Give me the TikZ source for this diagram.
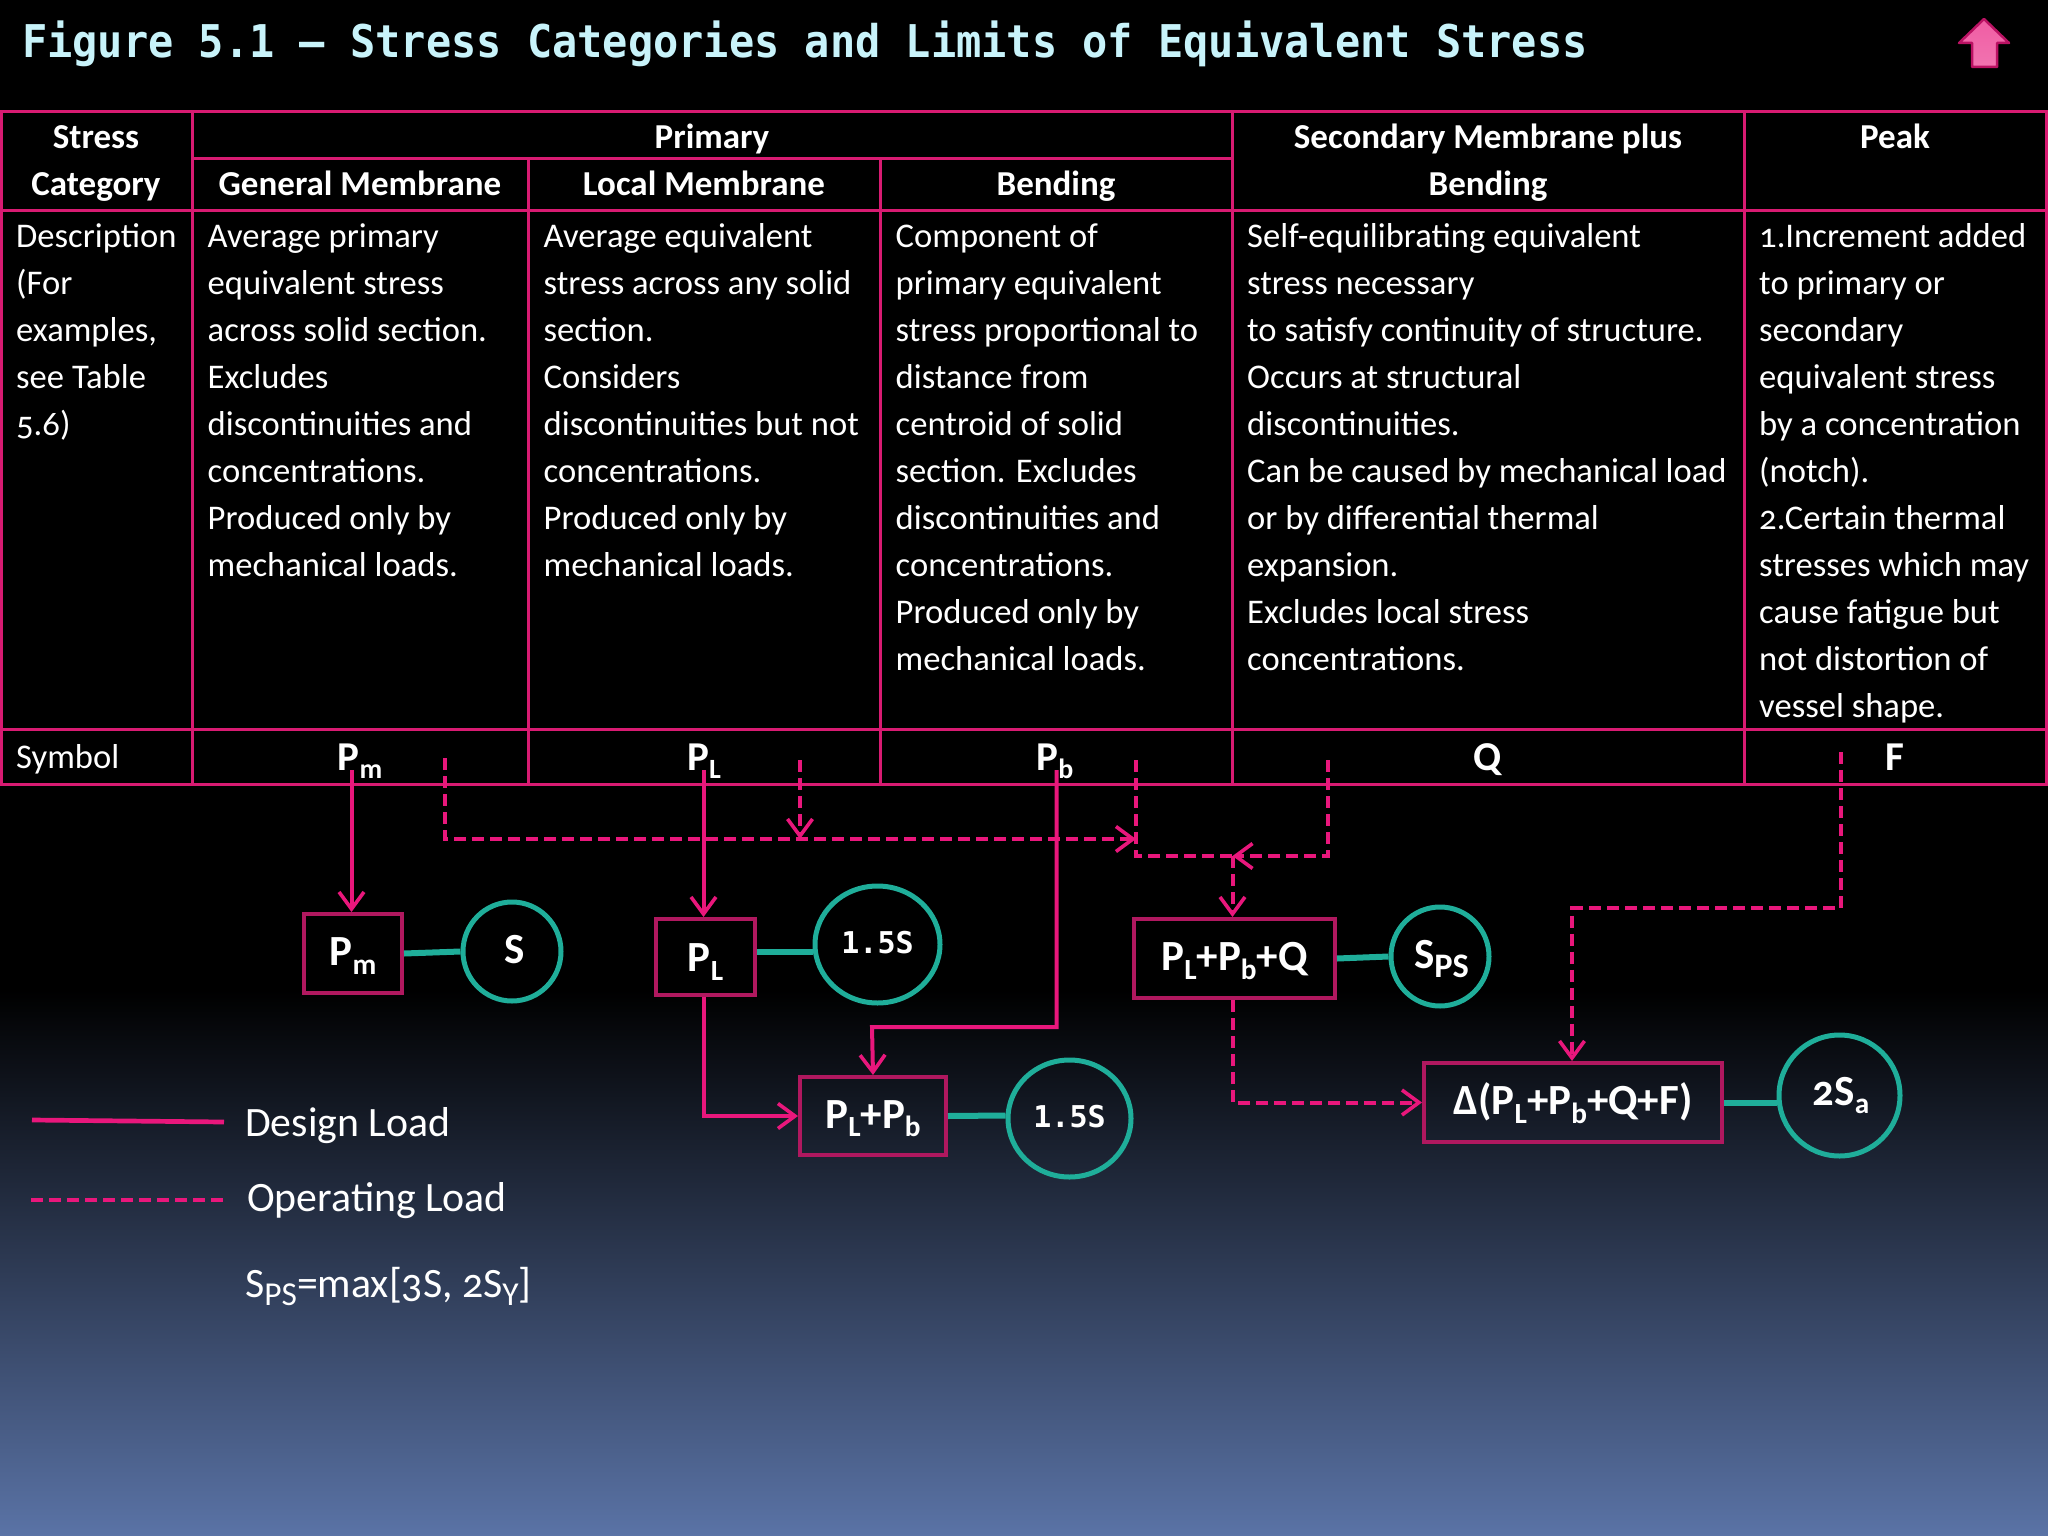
\documentclass[tikz,border=0pt]{standalone}
\usepackage{fontspec}
\usepackage{graphicx}
\setmainfont[Numbers=OldStyle]{Carlito}
\newfontfamily\titlefont[FakeStretch=0.93]{DejaVu Sans Mono}
\newfontfamily\limitfont{DejaVu Sans Mono}
\usetikzlibrary{arrows.meta,shapes.geometric}
\definecolor{slideblue}{HTML}{5A73A6}
\definecolor{linepink}{HTML}{E9177C}
\definecolor{gridpink}{HTML}{D81B72}
\definecolor{boxpink}{HTML}{B0185F}
\definecolor{circteal}{HTML}{1FAE9A}
\definecolor{titleblue}{HTML}{C8F3FA}
\newcommand{\bodyfont}{\fontsize{34.6}{47}\selectfont}
\newcommand{\lowsub}[2][0.68]{\raisebox{-0.2em}{\scalebox{#1}{#2}}}
\tikzstyle{grid}=[draw=gridpink, line width=3pt]
\tikzstyle{celltext}=[anchor=north west, inner sep=0pt, align=left, text=white, font=\bodyfont]
\tikzstyle{headtext}=[anchor=base, inner sep=0pt, text=white, font=\fontsize{35}{47}\selectfont\bfseries]
\tikzstyle{symtext}=[anchor=base, inner sep=0pt, text=white, font=\fontsize{41}{47}\selectfont\bfseries]
\tikzstyle{legendtext}=[anchor=base west, inner sep=0pt, text=white, font=\fontsize{41.8}{44}\selectfont]
\tikzstyle{loadbox}=[rectangle, draw=boxpink, line width=4pt, text=white, inner sep=0pt, text height=29pt, text depth=5pt, font=\fontsize{43}{45}\selectfont\bfseries]
\tikzstyle{limit}=[ellipse, draw=circteal, line width=5pt, text=white, inner sep=0pt, text height=29pt, text depth=5pt, font=\fontsize{43}{45}\selectfont\bfseries]
\tikzstyle{limitnum}=[text height=22pt, font=\limitfont\fontsize{30}{32}\selectfont\bfseries]
\tikzstyle{design}=[draw=linepink, line width=4pt, line join=miter, -{Straight Barb[length=17pt,width=25pt,line width=3.6pt]}]
\tikzstyle{operating}=[design, dash pattern=on 12pt off 6pt]
\tikzstyle{tie}=[draw=circteal, line width=6pt]
\newcommand{\loadbox}{\node[loadbox]}
\newcommand{\limit}{\node[limit]}
\begin{document}
\begin{tikzpicture}[x=1pt,y=-1pt]
\useasboundingbox (0,0) rectangle (2048,1536);
\fill[black] (0,0) rectangle (2048,990);
\shade[top color=black, bottom color=slideblue] (0,990) rectangle (2048,1536);

\node[anchor=base west, inner sep=0pt, text=titleblue, font=\titlefont\fontsize{45.1}{47}\selectfont\bfseries] (title) at (22,58)
  {Figure 5.1 – Stress Categories and Limits of Equivalent Stress};
\shade[top color=linepink!70!white, bottom color=linepink!60!white, draw=linepink!80!black, line width=2.5pt, line join=round]
  (1984,19) -- (2009,43) -- (1997,43) -- (1997,67) -- (1972,67) -- (1972,43) -- (1959,43) -- cycle;

% table grid
\draw[grid] (0,112) -- (2048,112);
\draw[grid] (192,159) -- (1232,159);
\draw[grid] (0,210) -- (2048,210);
\draw[grid] (0,729) -- (2048,729);
\draw[grid] (0,784) -- (2048,784);
\draw[grid] (1,112) -- (1,784);
\draw[grid] (192,112) -- (192,784);
\draw[grid] (528,159) -- (528,784);
\draw[grid] (880,159) -- (880,784);
\draw[grid] (1232,112) -- (1232,784);
\draw[grid] (1744,112) -- (1744,784);
\draw[grid] (2046,112) -- (2046,784);

\node[headtext] (stress) at (96,148.5) {Stress};
\node[headtext] (category) at (96,195.5) {Category};
\node[headtext] (primary) at (712,148.5) {Primary};
\node[headtext] (general) at (360,195.5) {General Membrane};
\node[headtext] (local) at (704,195.5) {Local Membrane};
\node[headtext] (bending) at (1056,195.5) {Bending};
\node[headtext] (second) at (1488,148.5) {Secondary Membrane plus};
\node[headtext] (secondb) at (1488,195.5) {Bending};
\node[headtext] (peak) at (1895,148.5) {Peak};

\node[celltext] (desc) at (16,214) {\strut Description\\(For\\examples,\\see Table\\5.6)};
\node[celltext] (descm) at (207.5,214) {\strut Average primary\\equivalent stress\\across solid section.\\Excludes\\discontinuities and\\concentrations.\\Produced only by\\mechanical loads.};
\node[celltext] (descl) at (543.5,214) {\strut Average equivalent\\stress across any solid\\section.\\Considers\\discontinuities but not\\concentrations.\\Produced only by\\mechanical loads.};
\node[celltext] (descb) at (895.5,214) {\strut Component of\\primary equivalent\\stress proportional to\\distance from\\centroid of solid\\section. Excludes\\discontinuities and\\concentrations.\\Produced only by\\mechanical loads.};
\node[celltext] (descq) at (1247,214) {\strut Self-equilibrating equivalent\\stress necessary\\to satisfy continuity of structure.\\Occurs at structural\\discontinuities.\\Can be caused by mechanical load\\or by differential thermal\\expansion.\\Excludes local stress\\concentrations.};
\node[celltext] (descf) at (1759,214) {\strut 1.Increment added\\to primary or\\secondary\\equivalent stress\\by a concentration\\(notch).\\2.Certain thermal\\stresses which may\\cause fatigue but\\not distortion of\\vessel shape.};

\node[celltext, anchor=base west] (symbol) at (16,768) {Symbol};
\node[symtext] (sympm) at (360,770) {P\lowsub{m}};
\node[symtext] (sympl) at (704,770) {P\lowsub{L}};
\node[symtext] (sympb) at (1055,770) {P\lowsub{b}};
\node[symtext] (symq) at (1488,770) {Q};
\node[symtext] (symf) at (1895,770) {F};

% load boxes and limits
\loadbox (pm) at (353,953.5) [minimum width=98pt, minimum height=79pt] {P\lowsub{m}};
\limit (s) at (512,951.5) [minimum width=98pt, minimum height=99pt] {\hspace*{5pt}S};
\loadbox (pl) at (705.5,957) [minimum width=99pt, minimum height=76pt, text height=34pt] {P\lowsub{L}};
\limit (lim) at (877.5,944.5) [limitnum, minimum width=125pt, minimum height=117pt] {1.5S};
\loadbox (plb) at (873,1116) [minimum width=146pt, minimum height=78pt] {P\lowsub{L}+P\lowsub{b}};
\limit (limb) at (1069.5,1118.5) [limitnum, minimum width=123pt, minimum height=117pt] {1.5S};
\loadbox (plbq) at (1234.5,958.5) [minimum width=201pt, minimum height=79pt] {P\lowsub{L}+P\lowsub{b}+Q};
\limit (sps) at (1440,956.5) [minimum width=98pt, minimum height=99pt] {\hspace*{3pt}S\lowsub[0.8]{PS}};
\loadbox (delta) at (1573,1102.5) [minimum width=298pt, minimum height=79pt] {Δ(P\lowsub{L}+P\lowsub{b}+Q+F)};
\limit (sa) at (1839.5,1095.5) [minimum width=121pt, minimum height=121pt, text height=24pt] {\hspace*{3pt}2S\lowsub{a}};

\coordinate (startm) at (351.5,770);
\coordinate (startl) at (703.5,770);
\coordinate (startb) at (1056.5,770);
\coordinate (opm) at (445,758);
\coordinate (opl) at (800,760);
\coordinate (opb) at (1136,760);
\coordinate (opq) at (1328,760);
\coordinate (opf) at (1840.5,752);
\coordinate (joinm) at (800,839);
\coordinate (joinb) at (1136,839);
\coordinate (joinq) at (1232.5,856);

\draw[design] (startm) -- (pm.north -| startm);
\draw[design] (startl) -- (pl.north -| startl);
\draw[design] (pl.south -| startl) |- (plb.west);
\draw[design] (startb) |- (872,1027) -- (plb.north);

\draw[operating] (opm) |- (joinb);
\draw[operating] (opl) -- (joinm);
\draw[operating, -] (opb) |- (joinq);
\draw[operating] (opq) |- (joinq);
\draw[operating] (joinq) -- (plbq.north -| joinq);
\draw[operating] (plbq.south -| joinq) |- (delta.west);
\draw[operating] (opf) |- (1572,908) -- (delta.north -| 1572,908);

\draw[tie] (pm.east) -- (s.west);
\draw[tie] ([yshift=5pt]pl.east) -- ([yshift=-7.5pt]lim.west);
\draw[tie] (plb.east) -- ([yshift=3pt]limb.west);
\draw[tie] (plbq.east) -- (sps.west);
\draw[tie] (delta.east) -- ([yshift=-7pt]sa.west);

% legend
\coordinate (designa) at (32,1120);
\coordinate (designb) at (224,1122);
\coordinate (opera) at (31,1200);
\coordinate (operb) at (226,1200);
\draw[design, -, line width=4.7pt] (designa) -- (designb);
\draw[operating, -, line width=4.7pt] (opera) -- (operb);
\node[legendtext] (designtxt) at (245,1136.5) {Design Load};
\node[legendtext] (opertxt) at (247,1211) {Operating Load};
\node[legendtext] (spstxt) at (245,1297) {S\lowsub[0.8]{PS}=max[3S, 2S\lowsub[0.8]{Y}]};
\end{tikzpicture}
\end{document}
